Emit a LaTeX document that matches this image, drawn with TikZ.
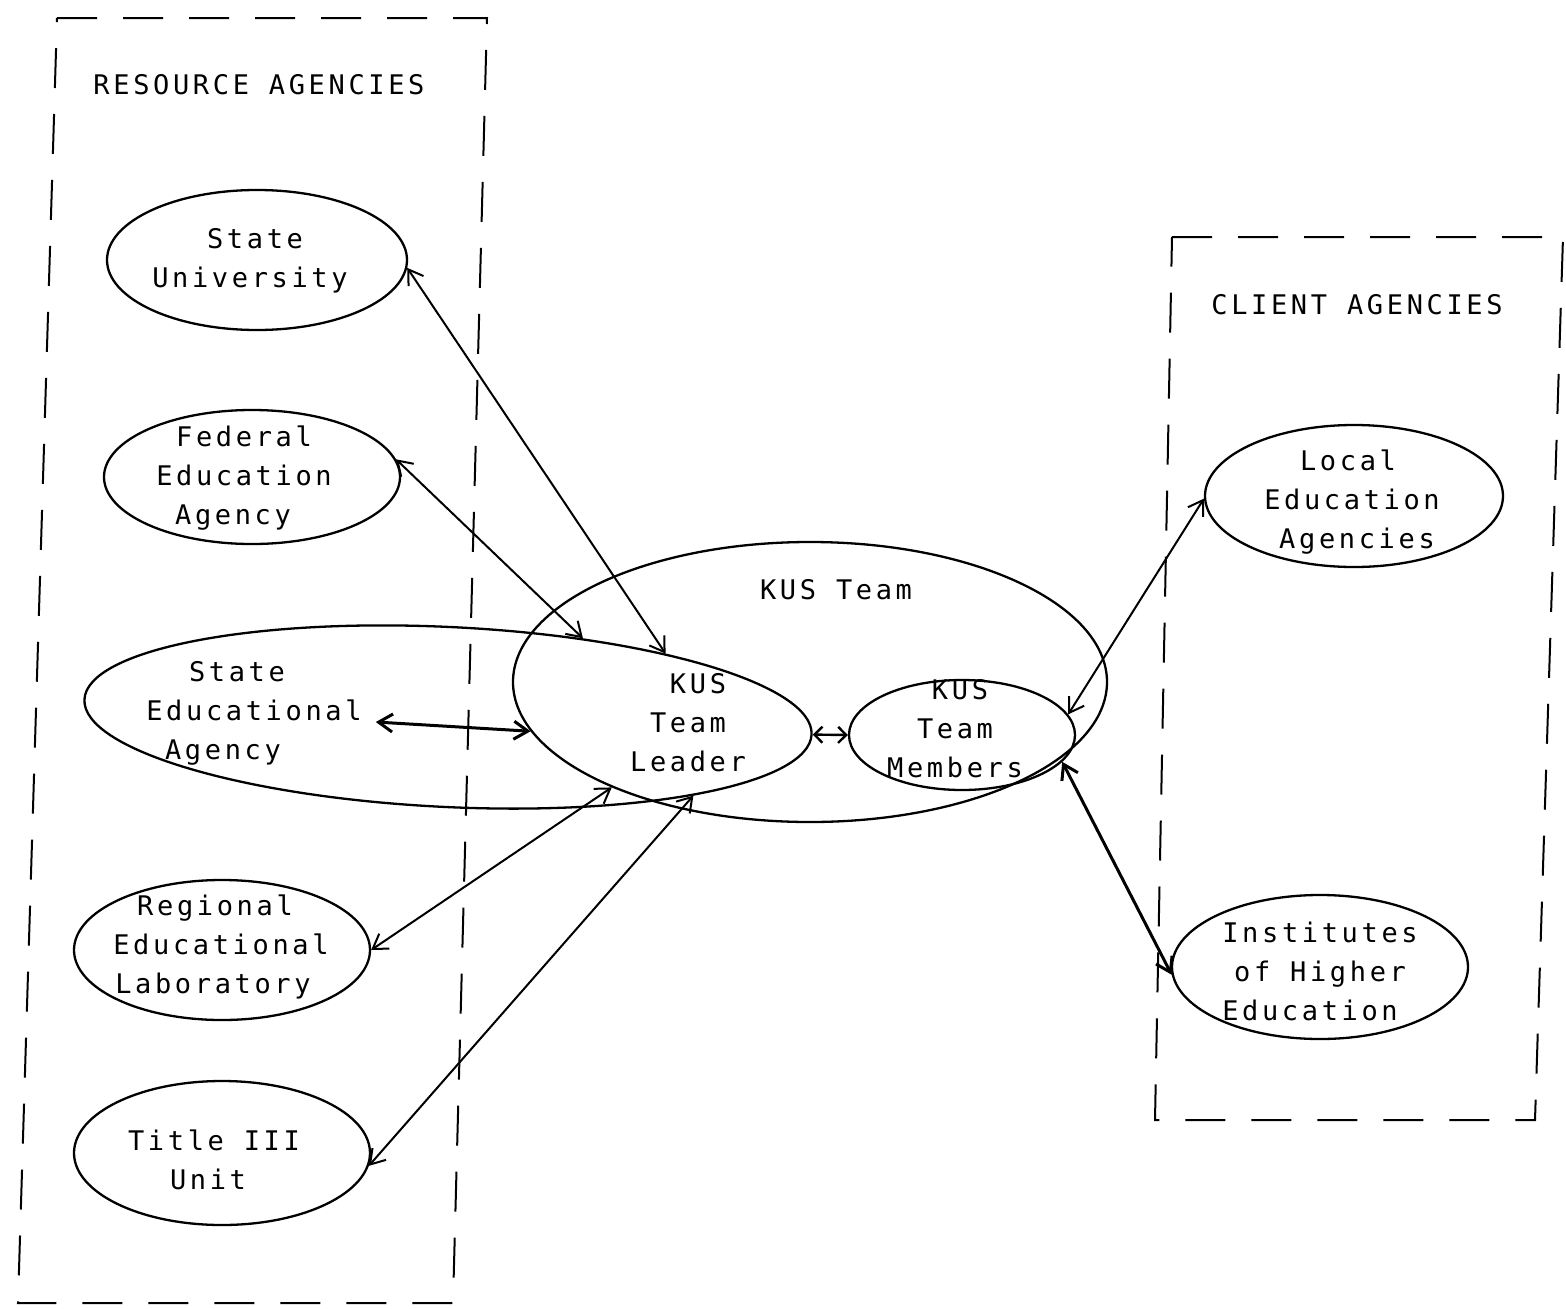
\documentclass[tikz,border=0pt]{standalone}
\usepackage{fontspec}
\newfontfamily\tw[LetterSpace=13.5]{DejaVu Sans Mono}
\usetikzlibrary{shapes.geometric,arrows.meta,calc}
\begin{document}
\begin{tikzpicture}[x=1pt,y=-1pt,
  ell/.style={draw, ellipse, line width=2.3pt, inner sep=0pt},
  txt/.style={font=\tw\fontsize{27}{39}\selectfont, align=center, inner sep=0pt},
  box/.style={line width=2pt, dash pattern=on 40pt off 26pt},
  link/.style={line width=2pt, {Straight Barb[length=14pt,width=18pt]}-{Straight Barb[length=14pt,width=18pt]}},
  shortlink/.style={line width=2.4pt, {Straight Barb[length=8pt,width=16pt]}-{Straight Barb[length=8pt,width=16pt]}},
  heavy/.style={link, line width=3pt}]
\fill[white] (0,0) rectangle (1566,1309);
\useasboundingbox (0,0) rectangle (1566,1309);

% dashed frames
\draw[box] (57,18) -- (487,18) -- (453,1303) -- (18,1303) -- cycle;
\draw[box] (1172,237) -- (1563,237) -- (1535,1120) -- (1155,1120) -- cycle;

% ellipses
\node[ell, minimum width=300pt, minimum height=140pt] (su) at (257,260) {};
\node[ell, minimum width=296pt, minimum height=134pt] (fea) at (252,477) {};
\node[ell, rotate=-2.76, minimum width=728pt, minimum height=180pt] (sea) at (448,717) {};
\node[ell, minimum width=296pt, minimum height=140pt] (rel) at (222,950) {};
\node[ell, minimum width=296pt, minimum height=144pt] (t3) at (222,1153) {};
\node[ell, minimum width=594pt, minimum height=280pt] (team) at (810,682) {};
\node[ell, minimum width=226pt, minimum height=110pt] (mem) at (962,735) {};
\node[ell, minimum width=298pt, minimum height=142pt] (lea) at (1354,496) {};
\node[ell, minimum width=296pt, minimum height=144pt] (ihe) at (1320,967) {};

% texts
\node[txt] (resT) at (259,85) {RESOURCE AGENCIES};
\node[txt] (cliT) at (1357,305) {CLIENT AGENCIES};
\node[txt] (suT) at (250,261) {State\hspace*{-10pt}\\University};
\node[txt] (feaT) at (244,478) {Federal\\Education\\Agency\hspace*{22pt}};
\node[txt] (seaT) at (254,713) {State\hspace*{34pt}\\Educational\\Agency\hspace*{62pt}};
\node[txt] (relT) at (221,947) {Regional\hspace*{12pt}\\Educational\\Laboratory\hspace*{16pt}};
\node[txt] (t3T) at (214,1160) {Title III\\Unit\hspace*{12pt}};
\node[txt] (teamT) at (836,590) {KUS Team};
\node[txt] (ldrT) at (688,723) {\hspace*{20pt}KUS\\Team\\Leader};
\node[txt] (memT) at (955,729) {KUS\hspace*{-10pt}\\Team\hspace*{10pt}\\Members};
\node[txt] (leaT) at (1352,502) {Local\hspace*{8pt}\\Education\hspace*{8pt}\\Agencies\hspace*{-10pt}};
\node[txt] (iheT) at (1320,971) {Institutes\\of Higher\hspace*{-16pt}\\Education\hspace*{20pt}};

% connectors
\draw[link] (su.-3) -- (sea.19);
\draw[link] (fea.7) -- (sea.33);
\draw[heavy] ($(seaT.east)+(14,9)$) -- (team.190);
\draw[shortlink] (sea.east) -- (mem.west);
\draw[link] (rel.0) -- (team.208);
\draw[link] (t3.-5) -- (sea.-15);
\draw[link] (mem.11) -- (lea.181);
\draw[heavy] (mem.-15) -- (ihe.183);
\end{tikzpicture}
\end{document}
